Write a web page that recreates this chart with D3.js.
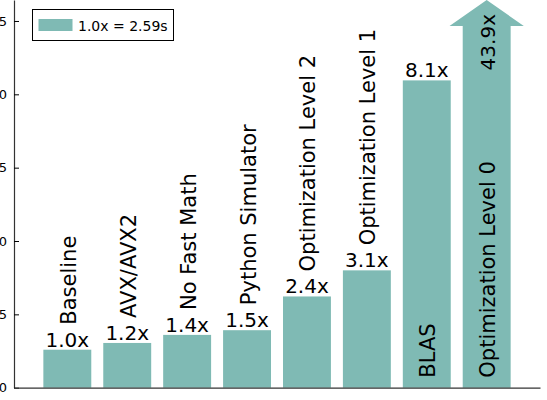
<!DOCTYPE html>
<html>
<head>
<meta charset="utf-8">
<script src="https://cdn.jsdelivr.net/npm/d3@7"></script>
<style>
  body { margin: 0; background: #fff; }
  text { font-family: "DejaVu Sans", sans-serif; fill: #000; }
</style>
</head>
<body>
<div id="chart"></div>
<script>
// data
const categories = ["Baseline", "AVX/AVX2", "No Fast Math", "Python Simulator",
                    "Optimization Level 2", "Optimization Level 1", "BLAS", "Optimization Level 0"]
const values = [2.59, 3.05, 3.6, 3.92, 6.22, 8.0, 20.95, 113.7]
const speedups = ["1.0x", "1.2x", "1.4x", "1.5x", "2.4x", "3.1x", "8.1x", "43.9x"]
const labelInside = [false, false, false, false, false, false, true, true]
const yTicks = [0, 5, 10, 15, 20, 25]
const legendLabel = "1.0x = 2.59s"

const width = 547
const height = 400
const barColor = "#7fbab4"
const yMax = 26.43

const svg = d3.select("#chart")
              .append("svg")
              .attr("width", width)
              .attr("height", height)

const xScale = d3.scaleLinear()
                 .domain([-0.89, 7.89])
                 .range([14, 540])

const yScale = d3.scaleLinear()
                 .domain([0, yMax])
                 .range([387.7, 0])

const barW = xScale(0.8) - xScale(0)
const headH = 26

//bars (the last one is drawn as an arrow when it goes past the top)
categories.forEach(function(c, i) {
  const cx = xScale(i)
  const v = values[i]
  if (v <= yMax) {
    svg.append("rect")
       .attr("x", cx - barW / 2)
       .attr("y", yScale(v))
       .attr("width", barW)
       .attr("height", yScale(0) - yScale(v))
       .attr("fill", barColor)
  } else {
    const top = yScale(yMax)
    const base = top + headH
    const hw = barW * 0.775
    const pts = [
      [cx - barW / 2, yScale(0)], [cx - barW / 2, base], [cx - hw, base],
      [cx, top], [cx + hw, base], [cx + barW / 2, base], [cx + barW / 2, yScale(0)]
    ]
    svg.append("path")
       .attr("d", d3.line()(pts) + "Z")
       .attr("fill", barColor)
  }
})

//labels
categories.forEach(function(c, i) {
  const cx = xScale(i)
  const v = values[i]
  if (v > yMax) {
    svg.append("text")
       .attr("transform", "translate(" + (cx + 8.5) + "," + (yScale(yMax) + 14) + ") rotate(-90)")
       .attr("text-anchor", "end")
       .style("font-size", "20px")
       .text(speedups[i])
  } else {
    svg.append("text")
       .attr("x", cx)
       .attr("y", yScale(v) - 3)
       .attr("text-anchor", "middle")
       .style("font-size", "20px")
       .text(speedups[i])
  }
  let startY = labelInside[i] ? yScale(0) - 10 : yScale(v) - 25
  svg.append("text")
     .attr("transform", "translate(" + (cx + 8.5) + "," + startY + ") rotate(-90)")
     .attr("text-anchor", "start")
     .style("font-size", "21px")
     .text(c)
})

//axes
const yAxis = d3.axisLeft(yScale)
                .tickValues(yTicks)
                .tickFormat(d3.format("d"))
                .tickSizeInner(-5)
                .tickSizeOuter(0)
                .tickPadding(7)

svg.append("g")
   .attr("transform", "translate(" + xScale.range()[0] + ",0)")
   .call(yAxis)
   .call(g => g.selectAll("text").style("font-size", "13px").style("fill", "#000"))
   .call(g => g.selectAll("line").attr("stroke", "#000"))
   .call(g => g.select(".domain").attr("stroke", "#333").attr("stroke-width", 1.2))

const xAxis = d3.axisBottom(xScale)
                .tickValues([])
                .tickSizeOuter(0)

svg.append("g")
   .attr("transform", "translate(0," + yScale(0) + ")")
   .call(xAxis)
   .call(g => g.select(".domain").attr("stroke", "#333").attr("stroke-width", 1.2))

//legend
const legend = svg.append("g").attr("id", "legend")
legend.append("rect")
      .attr("x", 32.5).attr("y", 9.5)
      .attr("width", 141).attr("height", 31)
      .attr("fill", "#fff")
      .attr("stroke", "#000")
legend.append("rect")
      .attr("x", 38.5).attr("y", 19)
      .attr("width", 34).attr("height", 12)
      .attr("fill", barColor)
legend.append("text")
      .attr("x", 78).attr("y", 30.5)
      .style("font-size", "14px")
      .text(legendLabel)
</script>
</body>
</html>
